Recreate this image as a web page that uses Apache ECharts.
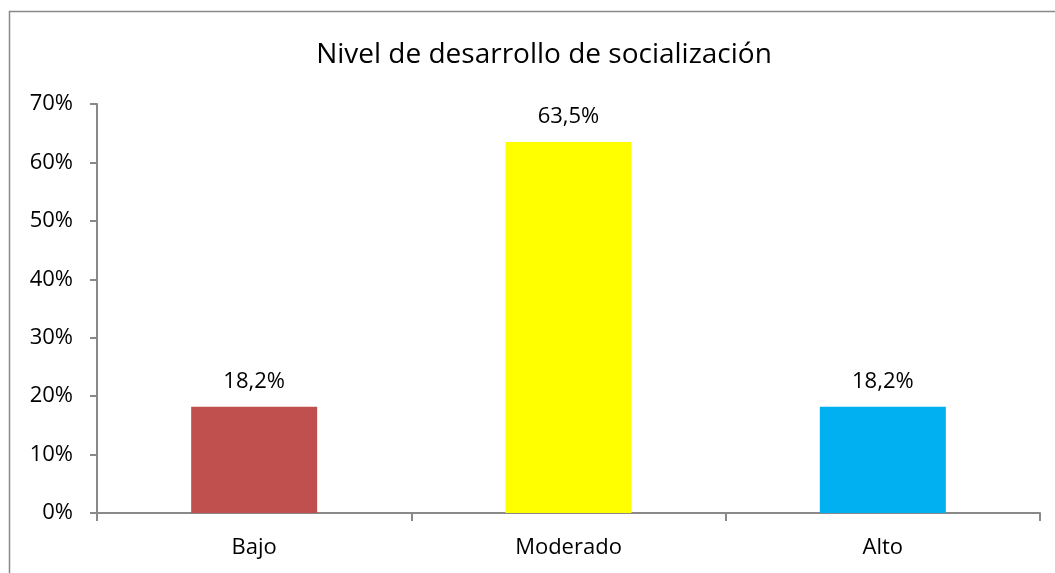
<!DOCTYPE html>
<html>
<head>
<meta charset="utf-8">
<script src="https://cdn.jsdelivr.net/npm/echarts@6/dist/echarts.min.js"></script>
<style>
  html, body { margin: 0; padding: 0; background: #fff; }
  #chart { width: 1055px; height: 573px; }
</style>
</head>
<body>
<div id="chart"></div>
<script>
// datos
const categories = ["Bajo", "Moderado", "Alto"];
const values = [18.2, 63.5, 18.2];
const barColors = ["#c0504d", "#ffff00", "#00b0f0"];
const title = "Nivel de desarrollo de socialización";

const fontFamily = "'Open Sans', 'Noto Sans', sans-serif";
const axisGrey = "#898989";

const chart = echarts.init(document.getElementById("chart"));
chart.setOption({
  animation: false,
  textStyle: { fontFamily: fontFamily },
  // marco exterior del gráfico (recortado a la derecha y abajo)
  graphic: [{
    type: "rect",
    shape: { x: 9.5, y: 11.5, width: 1100, height: 700 },
    style: { fill: "none", stroke: axisGrey, lineWidth: 1.5 },
    silent: true
  }],
  title: {
    text: title,
    left: 539,
    textAlign: "center",
    top: 36,
    textStyle: { fontFamily: fontFamily, fontWeight: "normal", fontSize: 28, color: "#000" }
  },
  grid: { left: 97, right: 15, top: 104, bottom: 60 },
  xAxis: {
    type: "category",
    data: categories,
    axisLine: { lineStyle: { color: axisGrey, width: 2 } },
    axisTick: { show: true, alignWithLabel: false, length: 8, lineStyle: { color: axisGrey, width: 2 } },
    axisLabel: { color: "#000", fontSize: 22, margin: 24 }
  },
  yAxis: {
    type: "value",
    min: 0,
    max: 70,
    interval: 10,
    axisLine: { show: true, lineStyle: { color: axisGrey, width: 2 } },
    axisTick: { show: true, length: 7, lineStyle: { color: axisGrey, width: 2 } },
    splitLine: { show: false },
    axisLabel: { color: "#000", fontSize: 22, margin: 24, formatter: "{value}%" }
  },
  series: [{
    type: "bar",
    barWidth: 126,
    data: values.map((v, i) => ({ value: v, itemStyle: { color: barColors[i] } })),
    label: {
      show: true,
      position: "top",
      distance: 14,
      color: "#000",
      fontSize: 22,
      formatter: p => p.value.toFixed(1).replace(".", ",") + "%"
    }
  }]
});
</script>
</body>
</html>
